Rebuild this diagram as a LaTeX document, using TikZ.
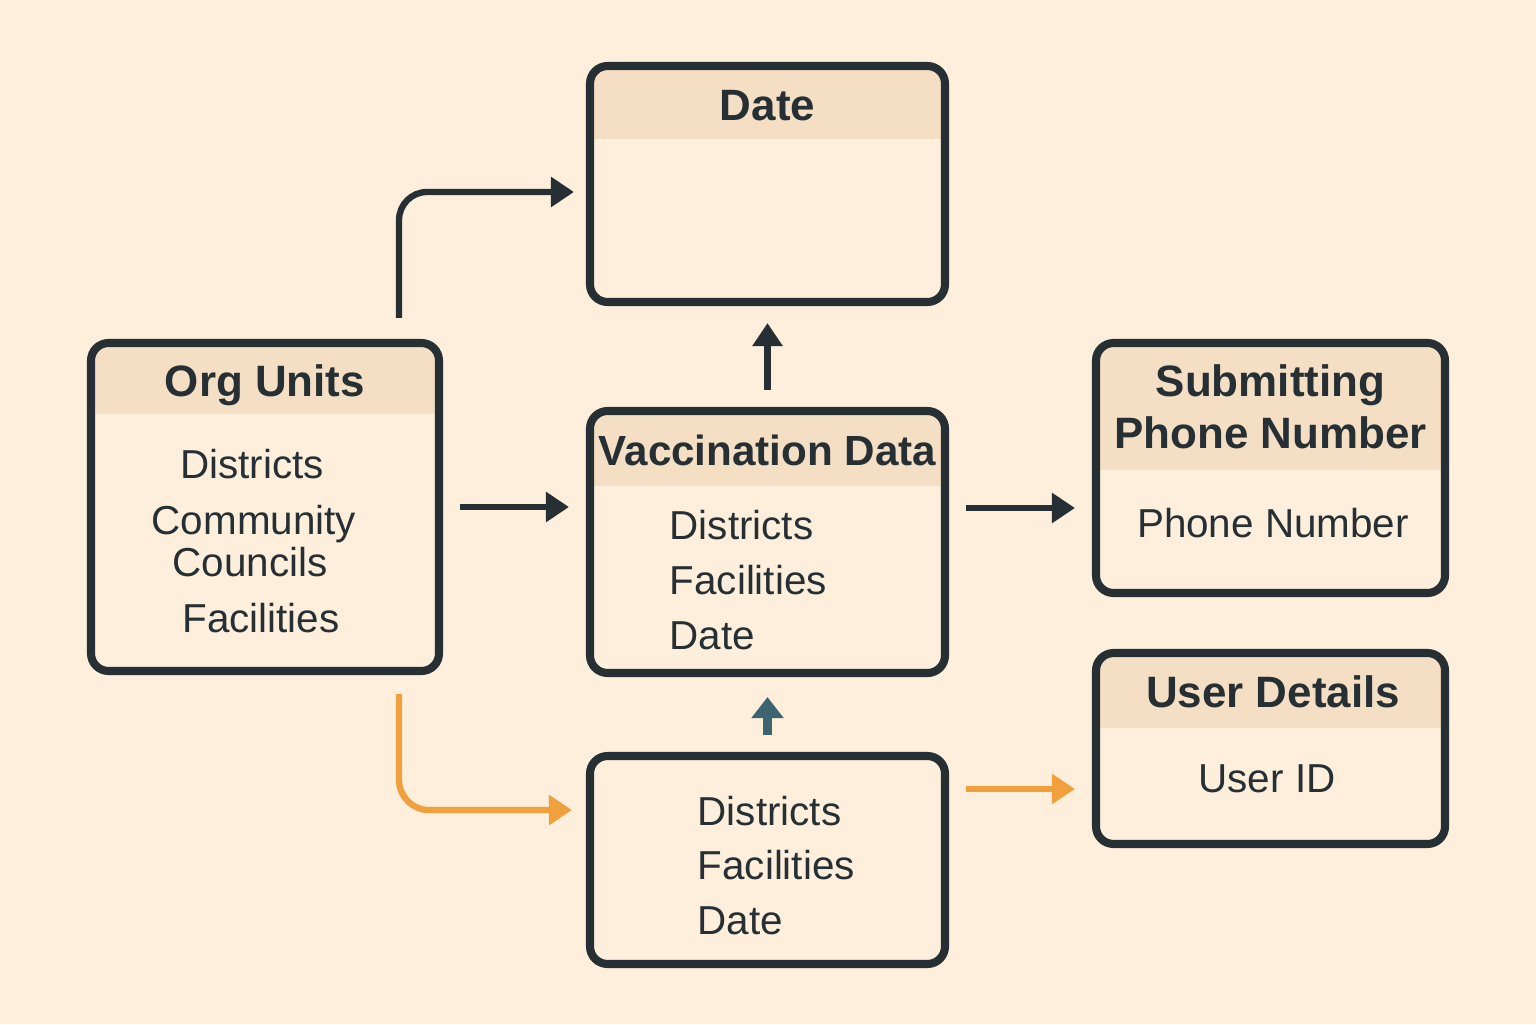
\documentclass[tikz,border=0pt]{standalone}
\usepackage{fontspec}
\setmainfont{Liberation Sans}
\usetikzlibrary{positioning,calc,arrows.meta}

\definecolor{paper}{HTML}{FDEFDC}
\definecolor{band}{HTML}{F5DFC4}
\definecolor{ink}{HTML}{263034}
\definecolor{amber}{HTML}{F0A03C}
\definecolor{slate}{HTML}{3E6471}

\tikzset{
  tbl/.style={draw=ink, line width=2.3pt, rounded corners=5pt, fill=paper, inner sep=0pt},
  tbl-head/.style={path picture={\fill[band, sharp corners] (path picture bounding box.north west) rectangle ([yshift=-#1]path picture bounding box.north east);}},
  hd/.style={font=\fontsize{12.5}{14}\selectfont\bfseries, text=ink, inner sep=0pt, anchor=base},
  item/.style={font=\fontsize{11.5}{13}\selectfont, text=ink, inner sep=0pt, anchor=base},
  link/.style={draw=ink, line width=1.8pt, -{Triangle[length=0.23cm,width=0.29cm]}, shorten <=0.17cm, shorten >=0.17cm},
  link-o/.style={link, draw=amber},
  link-s/.style={link, draw=slate, line width=2.8pt, -{Triangle[length=0.21cm,width=0.31cm]}},
}

\begin{document}
\begin{tikzpicture}
\fill[paper] (0,0) rectangle (15.36,10.24);
\useasboundingbox (0,0) rectangle (15.36,10.24);

% tables
\node[tbl, tbl-head=0.73cm, minimum width=3.55cm, minimum height=2.36cm] (tbl-date) at (7.675,8.40) {};
\node[tbl, tbl-head=0.71cm, minimum width=3.48cm, minimum height=3.28cm] (tbl-org) at (2.65,5.17) {};
\node[tbl, tbl-head=0.75cm, minimum width=3.55cm, minimum height=2.62cm] (tbl-vacc) at (7.675,4.82) {};
\node[tbl, tbl-head=1.27cm, minimum width=3.49cm, minimum height=2.50cm] (tbl-phone) at (12.705,5.56) {};
\node[tbl, tbl-head=0.75cm, minimum width=3.49cm, minimum height=1.91cm] (tbl-user) at (12.705,2.755) {};
\node[tbl, minimum width=3.55cm, minimum height=2.08cm] (tbl-sub) at (7.675,1.64) {};

% titles
\node[hd] (date-hd) at ($(tbl-date.north)+(0,-0.59)$) {Date};
\node[hd] (org-hd) at ($(tbl-org.north)+(0,-0.58)$) {Org Units};
\node[hd, font=\fontsize{12}{14}\selectfont\bfseries] (vacc-hd) at ($(tbl-vacc.north)+(0,-0.59)$) {Vaccination Data};
\node[hd] (phone-hd1) at ($(tbl-phone.north)+(0,-0.58)$) {Submitting};
\node[hd] (phone-hd2) at ($(tbl-phone.north)+(0,-1.10)$) {Phone Number};
\node[hd] (user-hd) at ($(tbl-user.north)+(0.025,-0.59)$) {User Details};

% fields
\node[item] (org-f1) at ($(tbl-org.north)+(-0.13,-1.40)$) {Districts};
\node[item] (org-f2) at ($(tbl-org.north)+(-0.11,-1.96)$) {Community};
\node[item] (org-f3) at ($(tbl-org.north)+(-0.15,-2.38)$) {Councils};
\node[item] (org-f4) at ($(tbl-org.north)+(-0.04,-2.94)$) {Facilities};

\foreach \txt [count=\i] in {Districts,Facilities,Date}
  \node[item, anchor=base west] (vacc-f\i) at ($(tbl-vacc.north west)+(0.83,-0.78-0.55*\i)$) {\txt};
\foreach \txt [count=\i] in {Districts,Facilities,Date}
  \node[item, anchor=base west] (sub-f\i) at ($(tbl-sub.north west)+(1.11,-0.19-0.545*\i)$) {\txt};

\node[item] (phone-f1) at ($(tbl-phone.north)+(0.025,-1.99)$) {Phone Number};
\node[item] (user-f1) at ($(tbl-user.north)+(-0.035,-1.44)$) {User ID};

% links
\draw[link, rounded corners=0.28cm, shorten <=0pt, shorten >=0.12cm] ([xshift=-0.44cm,yshift=0.21cm]tbl-org.north east) |- ([yshift=-0.08cm]tbl-date.west);
\draw[link] (tbl-org.east) -- (tbl-org.east -| tbl-vacc.west);
\draw[link] (tbl-vacc.north) -- (tbl-date.south);
\draw[link] ([yshift=0.34cm]tbl-vacc.east) -- ([yshift=0.34cm]tbl-vacc.east -| tbl-phone.west);
\draw[link-s, shorten >=0.2cm] (tbl-sub.north) -- (tbl-vacc.south);
\draw[link-o, rounded corners=0.3cm, shorten <=0pt, shorten >=0.14cm] ([xshift=-0.44cm,yshift=-0.19cm]tbl-org.south east) |- ([yshift=0.5cm]tbl-sub.west);
\draw[link-o] ([yshift=0.71cm]tbl-sub.east) -- ([yshift=0.71cm]tbl-sub.east -| tbl-user.west);
\end{tikzpicture}
\end{document}
